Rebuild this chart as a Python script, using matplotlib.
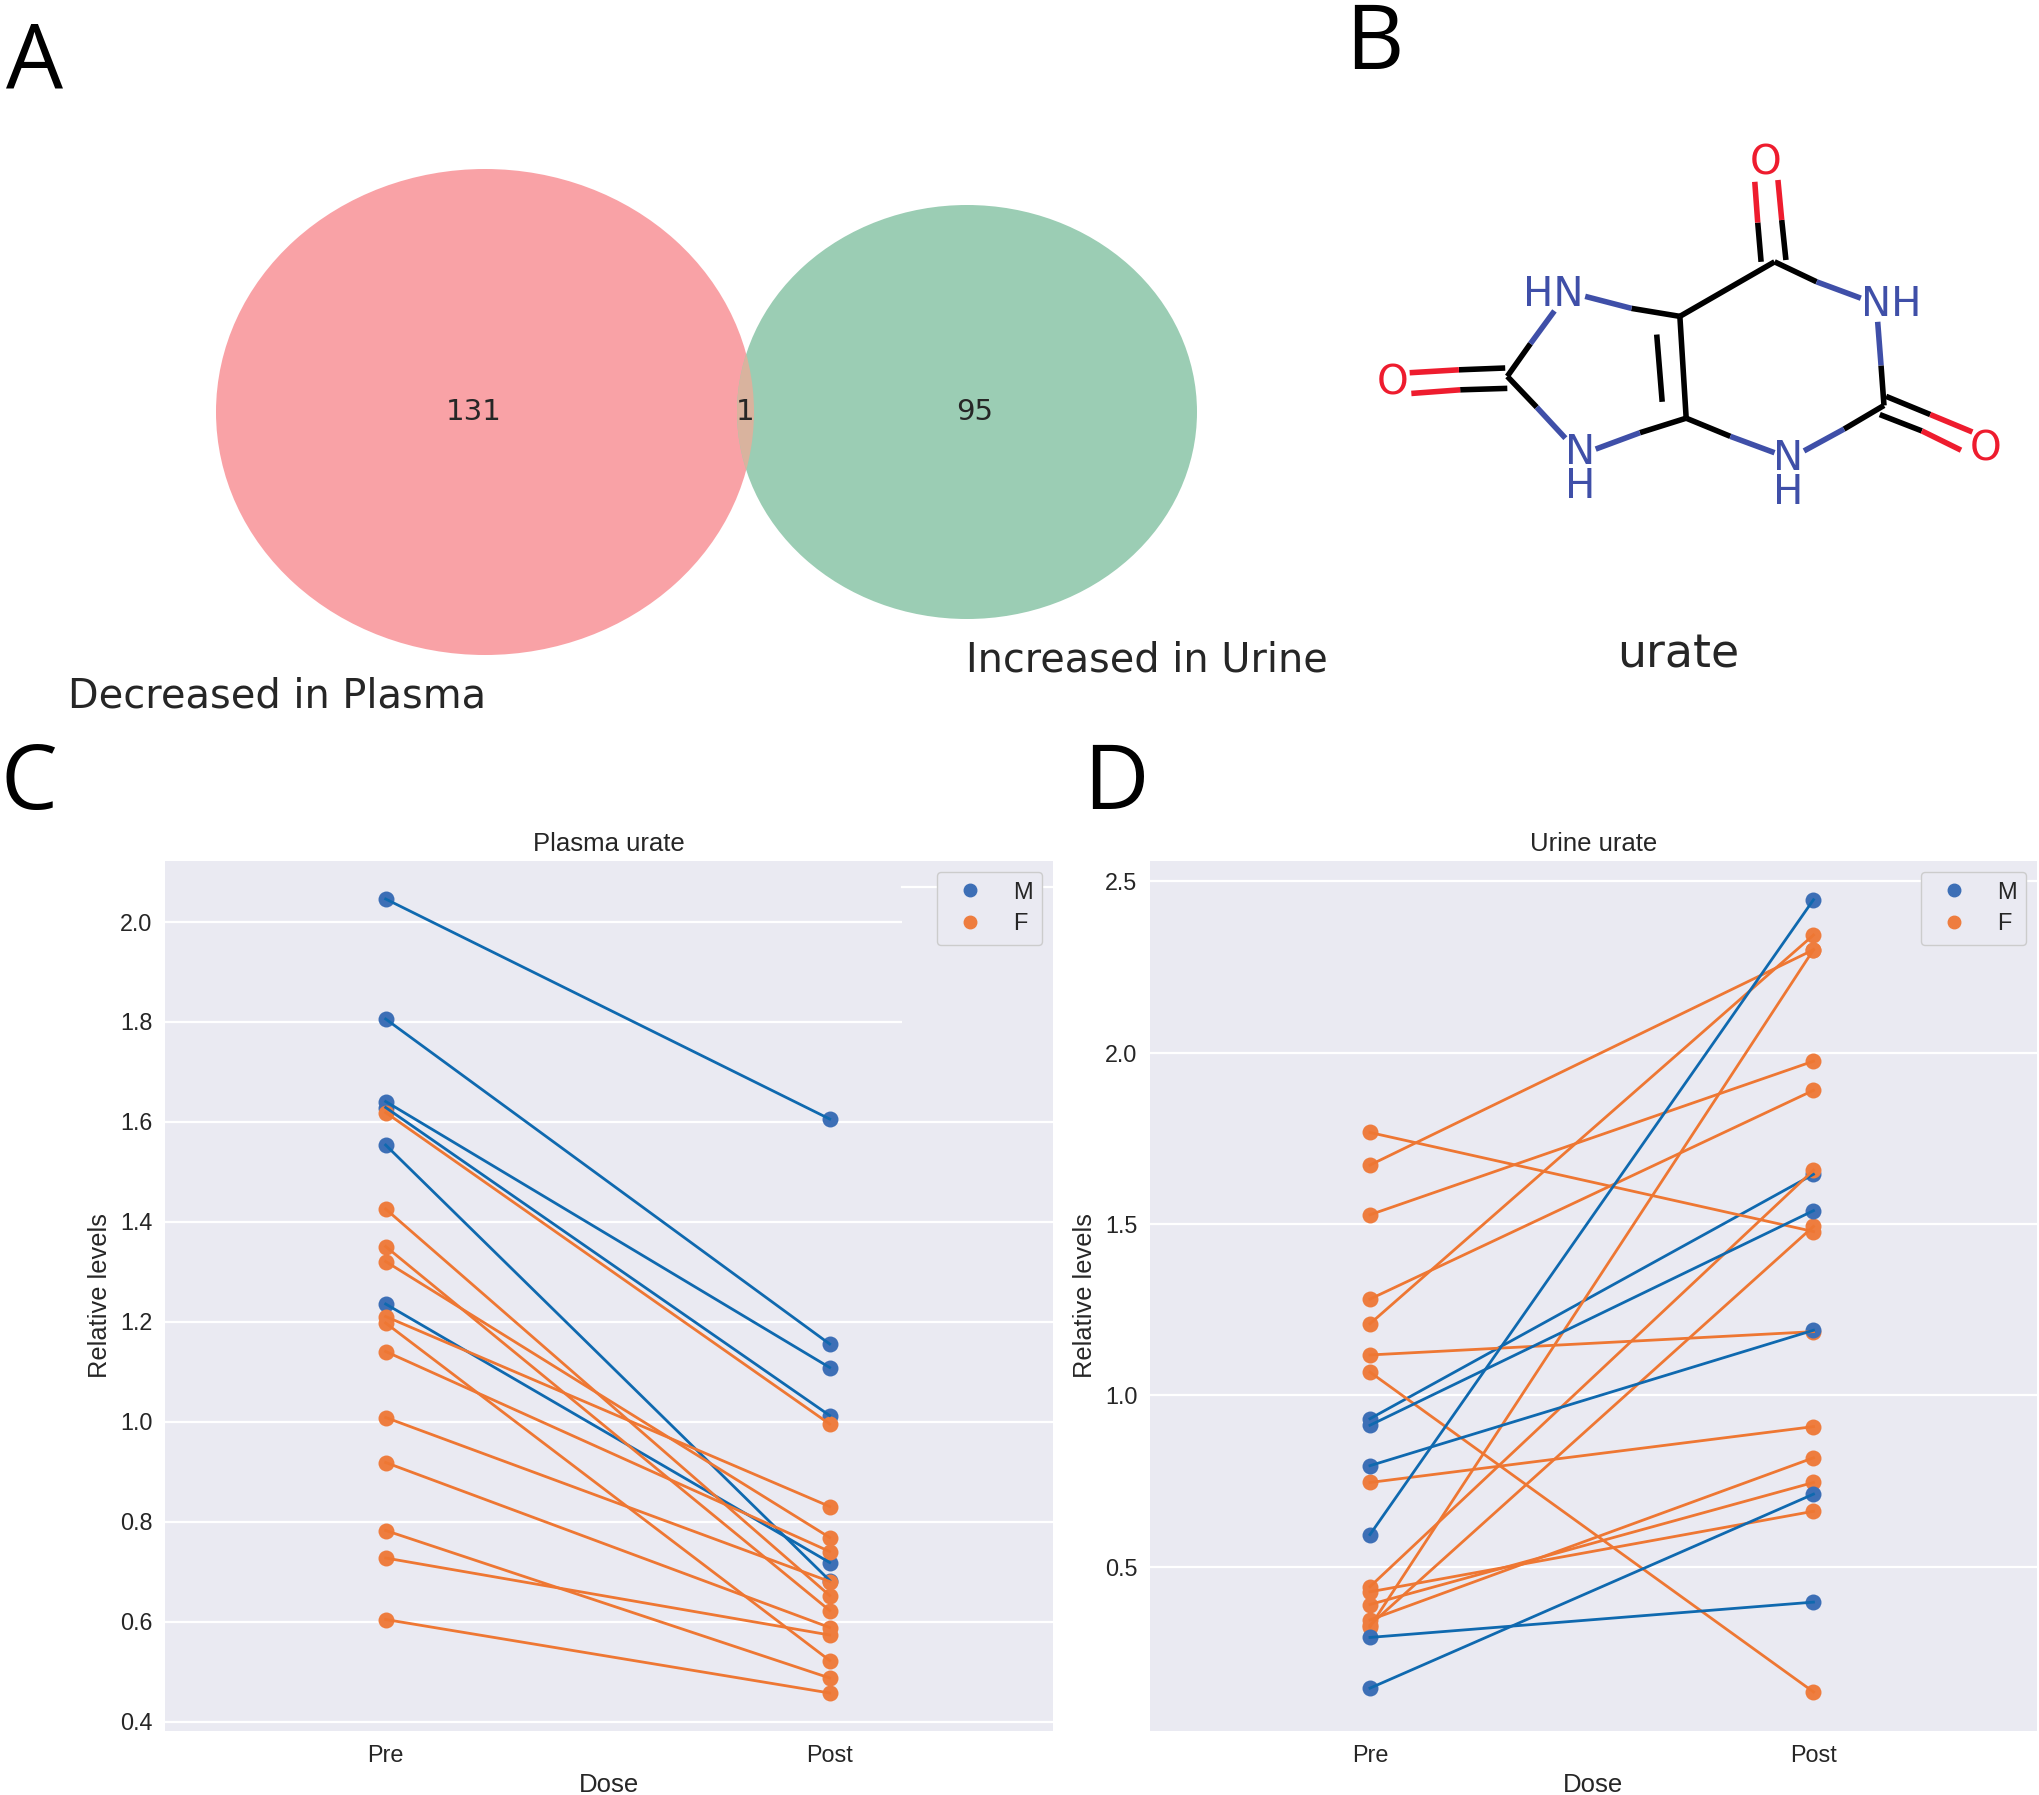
import matplotlib
matplotlib.use('Agg')
import matplotlib.pyplot as plt
from matplotlib.lines import Line2D
from matplotlib.patches import Ellipse, Rectangle

W = 2040
H = 1795
plt.rcParams['font.family'] = ['Liberation Sans', 'DejaVu Sans']

# plasma urate, pre and post values per subject
plasma_m_pre = [2.045, 1.805, 1.640, 1.628, 1.553, 1.235]
plasma_m_post = [1.605, 1.155, 1.108, 1.012, 0.682, 0.718]
plasma_f_pre = [1.618, 1.425, 1.350, 1.320, 1.210, 1.197, 1.140, 1.008, 0.918, 0.782, 0.727, 0.604]
plasma_f_post = [0.995, 0.652, 0.622, 0.768, 0.830, 0.522, 0.740, 0.680, 0.588, 0.487, 0.573, 0.457]

# urine urate
urine_m_pre = [0.932, 0.913, 0.795, 0.594, 0.294, 0.146]
urine_m_post = [1.645, 1.539, 1.190, 2.446, 0.397, 0.712]
urine_f_pre = [1.767, 1.672, 1.527, 1.281, 1.209, 1.118, 1.068, 0.746, 0.442, 0.427, 0.390, 0.345, 0.325, 0.330]
urine_f_post = [1.478, 2.300, 1.975, 1.890, 2.343, 1.186, 0.135, 0.909, 1.657, 0.662, 0.746, 0.818, 2.300, 1.493]

dose_labels = ['Pre', 'Post']
plasma_ticks = [0.4, 0.6, 0.8, 1.0, 1.2, 1.4, 1.6, 1.8, 2.0]
urine_ticks = [0.5, 1.0, 1.5, 2.0, 2.5]

BLUE_LINE = '#0f69af'
BLUE_DOT = '#3d6fb6'
ORANGE_LINE = '#ee7733'
ORANGE_DOT = '#ee7d3f'
BG = '#eaeaf2'
TXT = '#262626'

fig = plt.figure(figsize=(W / 100, H / 100), dpi=100, facecolor='white')

# overlay in pixel coordinates for the venn, the molecule and panel letters
ov = fig.add_axes([0, 0, 1, 1])
ov.set_xlim(0, W)
ov.set_ylim(H, 0)
ov.axis('off')


def make_axes(x0, x1, y0, y1):
    ax = fig.add_axes([x0 / W, 1 - y1 / H, (x1 - x0) / W, (y1 - y0) / H])
    ax.set_facecolor(BG)
    for s in ax.spines.values():
        s.set_visible(False)
    ax.grid(axis='y', color='white', lw=1.6)
    ax.set_axisbelow(True)
    ax.tick_params(length=0, labelsize=16.8, labelcolor=TXT, pad=9)
    return ax


def draw_pairs(ax, pre, post, line_col, dot_col):
    for a, b in zip(pre, post):
        ax.plot([0, 1], [a, b], ls='none', marker='o', ms=11.5, mfc=dot_col, mec=dot_col, mew=0, zorder=3)
        ax.plot([0, 1], [a, b], color=line_col, lw=2.0, zorder=4)


def finish(ax, title, ticks, xlim, ylim):
    ax.set_xlim(*xlim)
    ax.set_ylim(*ylim)
    ax.set_xticks([0, 1])
    ax.set_xticklabels(dose_labels)
    ax.set_yticks(ticks)
    ax.set_yticklabels(['%.1f' % t for t in ticks])
    ax.set_title(title, fontsize=18.5, color=TXT, pad=7)
    ax.set_xlabel('Dose', fontsize=18.5, color=TXT, labelpad=5)
    ax.set_ylabel('Relative levels', fontsize=18.3, color=TXT, labelpad=6)
    handles = [Line2D([], [], ls='none', marker='o', ms=9, color=BLUE_DOT, label='M'),
               Line2D([], [], ls='none', marker='o', ms=9, color=ORANGE_DOT, label='F')]
    leg = ax.legend(handles=handles, loc='upper right', fontsize=17, facecolor=BG, edgecolor='#cccccc',
                    framealpha=1, handletextpad=0.8, borderaxespad=0.45, labelspacing=0.42, borderpad=0.42)
    for t in leg.get_texts():
        t.set_color(TXT)


ax1 = make_axes(165, 1053, 861, 1731)
draw_pairs(ax1, plasma_m_pre, plasma_m_post, BLUE_LINE, BLUE_DOT)
draw_pairs(ax1, plasma_f_pre, plasma_f_post, ORANGE_LINE, ORANGE_DOT)
finish(ax1, 'Plasma urate', plasma_ticks, (-0.497, 1.503), (0.381, 2.121))
# the reference has a pasted corner here that cuts the grid lines
ax1.add_patch(Rectangle((0.83, 0.79), 0.17, 0.21, transform=ax1.transAxes, fc=BG, ec='none', zorder=1))
ax1.plot([0.83, 1], [0.97, 0.97], transform=ax1.transAxes, color='white', lw=1.6, zorder=1.5)

ax2 = make_axes(1150, 2037, 861, 1731)
# first male subject sits under the orange dot at Post, the others on top
draw_pairs(ax2, urine_m_pre[:1], urine_m_post[:1], BLUE_LINE, BLUE_DOT)
draw_pairs(ax2, urine_f_pre, urine_f_post, ORANGE_LINE, ORANGE_DOT)
draw_pairs(ax2, urine_m_pre[1:], urine_m_post[1:], BLUE_LINE, BLUE_DOT)
finish(ax2, 'Urine urate', urine_ticks, (-0.496, 1.504), (0.021, 2.559))

# venn
left_c = Ellipse((485, 412), 538, 486, fc='#f9a2a6', ec='none', zorder=1)
right_c = Ellipse((967, 412), 460, 414, fc='#9bcdb4', ec='none', zorder=1)
ov.add_patch(left_c)
ov.add_patch(right_c)
both = Ellipse((967, 412), 460, 414, fc='#d9b39e', ec='none', zorder=1.1)
ov.add_patch(both)
both.set_clip_path(Ellipse((485, 412), 538, 486, transform=ov.transData))

venn_font = ['DejaVu Sans']
ov.text(474, 412, '131', fontsize=21, ha='center', va='center', color=TXT, family=venn_font, zorder=2)
ov.text(745, 412, '1', fontsize=21, ha='center', va='center', color=TXT, family=venn_font, zorder=2)
ov.text(975, 412, '95', fontsize=21, ha='center', va='center', color=TXT, family=venn_font, zorder=2)
ov.text(68, 697, 'Decreased in Plasma', fontsize=28.7, ha='left', va='center', color=TXT, family=venn_font)
ov.text(966, 661, 'Increased in Urine', fontsize=28.6, ha='left', va='center', color=TXT, family=venn_font)
ov.text(1678, 655, 'urate', fontsize=33, ha='center', va='center', color=TXT, family=venn_font)

MOL_BLACK = '#000000'
MOL_BLUE = '#3f4fa8'
MOL_RED = '#ee1c2e'
black_bonds = [((760, 540), (985, 390)), ((985, 390), (1085, 445)), ((1238, 675), (1245, 785)),
               ((1245, 785), (1150, 850)), ((880, 870), (775, 820)), ((775, 820), (760, 540)),
               ((718, 775), (705, 590)), ((760, 540), (645, 518)), ((405, 615), (350, 705)),
               ((350, 705), (420, 790)), ((665, 860), (775, 820)), ((953, 390), (945, 282)),
               ((1012, 385), (1002, 275)), ((1250, 760), (1355, 810)), ((1235, 810), (1335, 855)),
               ((345, 682), (235, 687)), ((350, 738), (238, 742))]
blue_bonds = [((1085, 445), (1190, 490)), ((1230, 555), (1238, 675)), ((1150, 850), (1055, 910)),
              ((985, 915), (880, 870)), ((645, 518), (535, 485)), ((462, 525), (405, 615)),
              ((420, 790), (488, 875)), ((560, 905), (665, 860))]
red_bonds = [((945, 282), (938, 170)), ((1002, 275), (993, 165)), ((1355, 810), (1455, 858)),
             ((1335, 855), (1428, 908)), ((235, 687), (118, 695)), ((238, 742), (122, 752))]
blue_atoms = [('HN', 458, 480), ('NH', 1262, 510), ('N\nH', 522, 962), ('N\nH', 1018, 978)]
red_atoms = [('O', 963, 120), ('O', 1487, 905), ('O', 78, 725)]


def mx(x):
    return 1360 + x / 2.376


def my(y):
    return 120 + y / 2.75


for bonds, col in [(black_bonds, MOL_BLACK), (blue_bonds, MOL_BLUE), (red_bonds, MOL_RED)]:
    for p, q in bonds:
        ov.plot([mx(p[0]), mx(q[0])], [my(p[1]), my(q[1])], color=col, lw=4.0, solid_capstyle='butt')
for label, x, y in blue_atoms:
    ov.text(mx(x), my(y), label, fontsize=29, color=MOL_BLUE, ha='center', va='center', family=venn_font,
            linespacing=0.8)
for label, x, y in red_atoms:
    ov.text(mx(x), my(y), label, fontsize=29, color=MOL_RED, ha='center', va='center', family=venn_font)

# panel letters
for letter, x, y in [('A', 6, 88), ('B', 1345, 69), ('C', 0, 809), ('D', 1083, 809)]:
    ov.text(x, y, letter, fontsize=65, color='black', ha='left', va='baseline', family=['Open Sans'])

fig.savefig('out.png', dpi=100)
